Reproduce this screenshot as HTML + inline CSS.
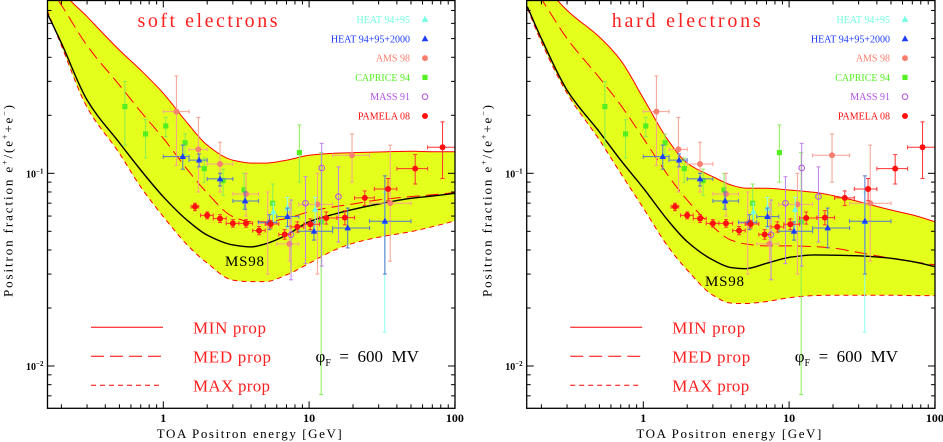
<!DOCTYPE html>
<html><head><meta charset="utf-8">
<style>
html,body{margin:0;padding:0;background:#fff;}
svg{display:block;}
text{font-family:"Liberation Serif",serif;}
</style></head>
<body>
<svg id="chart" width="943" height="442" viewBox="0 0 943 442" xmlns="http://www.w3.org/2000/svg"></svg>
<script>
// ---- shared data ----
const gridE = [0.16,0.2,0.3,0.5,0.7,1,1.5,2,3,4,5,7,10,15,20,30,50,70,100];
// soft electrons
const softMin = [1.3,0.9,0.65,0.436,0.343,0.26,0.178,0.14,0.117,0.113,0.113,0.117,0.124,0.127,0.128,0.129,0.13,0.1295,0.1295];
const softMed = [0.95,0.746,0.46,0.287,0.209,0.152,0.102,0.079,0.0596,0.0561,0.0561,0.0583,0.0632,0.0671,0.0693,0.0728,0.0757,0.0773,0.0794];
const softMax = [0.70,0.46,0.22,0.127,0.085,0.0596,0.0416,0.0342,0.0279,0.0274,0.0274,0.0297,0.0341,0.04,0.0433,0.0466,0.0498,0.0528,0.0566];
const softMS98 = [0.676,0.474,0.24,0.144,0.104,0.0755,0.056,0.0478,0.0425,0.0415,0.043,0.0478,0.0561,0.0615,0.065,0.0693,0.0742,0.0762,0.0787];
// hard electrons
const hardMin = [1.3,1.0,0.7,0.51,0.386,0.245,0.146,0.113,0.096,0.087,0.0838,0.0836,0.0819,0.0796,0.0766,0.0713,0.0645,0.0608,0.0561];
const hardMed = [1.0,0.8,0.50,0.313,0.226,0.152,0.096,0.0726,0.0528,0.045,0.043,0.042,0.042,0.0416,0.0409,0.0388,0.0362,0.0348,0.0335];
const hardMax = [0.72,0.48,0.26,0.149,0.1,0.066,0.041,0.0315,0.0233,0.0212,0.0211,0.0216,0.0226,0.0232,0.0233,0.0233,0.0233,0.0232,0.0232];
const hardMS98 = [0.733,0.50,0.27,0.164,0.117,0.0838,0.0561,0.0442,0.0355,0.0324,0.032,0.0341,0.0366,0.0377,0.0376,0.0373,0.0362,0.0348,0.0328];

// PAMELA 08
const pamE = [1.65,2.0,2.45,3.0,3.69,4.54,5.46,6.8,8.3,10.2,13.1,17.6,24.1,34.8,53.4,82.3];
const pamV = [.0671,.0605,.0582,.055,.055,.0504,.0546,.0481,.0527,.0544,.0586,.0589,.0745,.0829,.1057,.1365];
const pamLo = [.064,.058,.0555,.0525,.0525,.048,.052,.0455,.0495,.051,.0545,.054,.068,.072,.088,.094];
const pamHi = [.070,.063,.061,.0575,.0575,.053,.057,.051,.056,.058,.063,.064,.081,.094,.125,.185];
const pamElo = [1.55,1.8,2.2,2.7,3.3,4.1,5.0,6.2,7.5,9.2,11.8,15.5,20.5,28,40,65];
const pamEhi = [1.75,2.2,2.7,3.3,4.1,5.0,6.2,7.5,9.2,11.8,15.5,20.5,28,40,65,100];
// HEAT 94+95+2000
const h2E = [1.36,1.76,2.45,3.64,5.34,7.1,10.8,18.4,33.1];
const h2V = [.122,.117,.0935,.0718,.0557,.0596,.05,.052,.0564];
const h2Lo = [.105,.108,.086,.065,.051,.053,.045,.041,.030];
const h2Hi = [.14,.126,.1,.08,.061,.066,.056,.066,.097];
const h2Elo = [1.0,1.5,2.0,3.0,4.5,6.0,8.5,14.5,26];
const h2Ehi = [1.5,2.0,3.0,4.5,6.0,8.5,14.5,26,50];
// HEAT 94+95
const h1E = [5.7,7.1,11,33];
const h1V = [.063,.066,.065,.056];
const h1Lo = [.055,.052,.05,.015];
const h1Hi = [.07,.075,.075,.08];
// AMS 98
const amsE = [1.23,1.74,2.45,3.69,5.2,7.33,11.4,19.7,36];
const amsV = [.209,.133,.1117,.0781,.055,.043,.069,.124,.0699];
const amsLo = [.11,.08,.08,.06,.03,.035,.03,.09,.035];
const amsHi = [.32,.195,.145,.1,.08,.07,.10,.16,.14];
const amsElo = [1.0,1.5,2.0,3.0,4.5,6,8.5,14.5,26];
const amsEhi = [1.5,2,3,4.5,6,8.5,14.5,26,50];
// CAPRICE 94
const capE = [.545,.756,1.04,1.41,1.91,2.57,3.58,5.63,8.58,12.1];
const capV = [.222,.16,.176,.144,.1057,.0916,.082,.0699,.128,.0559];
const capLo = [.14,.12,.155,.125,.09,.077,.066,.055,.09,.0071];
const capHi = [.30,.19,.195,.16,.12,.105,.1,.088,.178,.128];
// MASS 91
const massE = [7.52,9.44,12.2,15.9];
const massV = [.048,.0699,.1066,.0757];
const massLo = [.028,.034,.033,.044];
const massHi = [.0727,.096,.143,.108];

const legendLabels = ["HEAT 94+95","HEAT 94+95+2000","AMS 98","CAPRICE 94","MASS 91","PAMELA 08"];
const xTickLabels = ["1","10","100"];

const NS = "http://www.w3.org/2000/svg";
const svg = document.getElementById('chart');
function mk(tag, attrs, parent){
  const e = document.createElementNS(NS, tag);
  for (const k in attrs) e.setAttribute(k, attrs[k]);
  (parent||svg).appendChild(e);
  return e;
}
const Y_TOP = 0.5, Y_BOT = 408.3;
function yS(v){ return 173.3 - (Math.log10(v)+1)*192.7; }

function smoothPath(pts, reverse){
  const n = pts.length, d = [], m = new Array(n);
  for (let i=0;i<n-1;i++) d.push((pts[i+1][1]-pts[i][1])/(pts[i+1][0]-pts[i][0]));
  m[0]=d[0]; m[n-1]=d[n-2];
  for (let i=1;i<n-1;i++){
    if (d[i-1]*d[i]<=0) m[i]=0;
    else { const h0=pts[i][0]-pts[i-1][0], h1=pts[i+1][0]-pts[i][0];
      const w1=2*h1+h0, w2=h1+2*h0; m[i]=(w1+w2)/(w1/d[i-1]+w2/d[i]); }
  }
  const segs=[];
  for (let i=0;i<n-1;i++){
    const h=pts[i+1][0]-pts[i][0];
    segs.push([pts[i],[pts[i][0]+h/3,pts[i][1]+m[i]*h/3],[pts[i+1][0]-h/3,pts[i+1][1]-m[i+1]*h/3],pts[i+1]]);
  }
  const f=p=>p[0].toFixed(1)+","+p[1].toFixed(1);
  if (!reverse){
    let s="M"+f(pts[0]);
    segs.forEach(g=>{s+=" C"+f(g[1])+" "+f(g[2])+" "+f(g[3]);});
    return s;
  } else {
    let s="L"+f(pts[n-1]);
    for (let i=segs.length-1;i>=0;i--){const g=segs[i]; s+=" C"+f(g[2])+" "+f(g[1])+" "+f(g[0]);}
    return s;
  }
}

function panel(id, x0, x1, xOne, title, titleLen, cMin, cMed, cMax, cMS, msPos){
  const xS = E => xOne + Math.log10(E)*145.8;
  const g = mk('g', {});
  
  
  const clip = mk('clipPath', {id:'clip-'+id}, g);
  mk('rect', {x:x0, y:Y_TOP, width:x1-x0, height:Y_BOT-Y_TOP}, clip);
  const plot = mk('g', {'clip-path':'url(#clip-'+id+')'}, g);

  const ptsMin = gridE.map((E,i)=>[xS(E), yS(cMin[i])]);
  const ptsMax = gridE.map((E,i)=>[xS(E), yS(cMax[i])]);
  const ptsMed = gridE.map((E,i)=>[xS(E), yS(cMed[i])]);
  const ptsMS = gridE.map((E,i)=>[xS(E), yS(cMS[i])]);
  const band = mk('path', {d: smoothPath(ptsMin)+" "+smoothPath(ptsMax,true)+" Z", fill:'#e5ff1c', stroke:'none'}, plot);
  
  
  const lMin = mk('path', {d:smoothPath(ptsMin), fill:'none', stroke:'#ff0000', 'stroke-width':1}, plot);
  
  
  const lMed = mk('path', {d:smoothPath(ptsMed), fill:'none', stroke:'#ff0000', 'stroke-width':1, 'stroke-dasharray':'13,6'}, plot);
  
  
  const lMax = mk('path', {d:smoothPath(ptsMax), fill:'none', stroke:'#ff0000', 'stroke-width':1, 'stroke-dasharray':'5,4'}, plot);
  
  
  const lMS = mk('path', {d:smoothPath(ptsMS), fill:'none', stroke:'#000', 'stroke-width':1.4}, plot);
  
  

  function series(name, Es, Vs, Lo, Hi, Elo, Ehi, col, ecol, shape){
    const sg = mk('g', {}, plot);
    
    
    Es.forEach((E,i)=>{
      const x = xS(E), y = yS(Vs[i]);
      mk('line', {x1:x, x2:x, y1:yS(Lo[i]), y2:yS(Hi[i]), stroke:ecol, 'stroke-width':1}, sg);
      mk('line', {x1:x-2, x2:x+2, y1:yS(Lo[i]), y2:yS(Lo[i]), stroke:ecol}, sg);
      mk('line', {x1:x-2, x2:x+2, y1:yS(Hi[i]), y2:yS(Hi[i]), stroke:ecol}, sg);
      if (Elo){
        mk('line', {x1:xS(Elo[i]), x2:xS(Ehi[i]), y1:y, y2:y, stroke:ecol}, sg);
        mk('line', {x1:xS(Elo[i]), x2:xS(Elo[i]), y1:y-2, y2:y+2, stroke:ecol}, sg);
        mk('line', {x1:xS(Ehi[i]), x2:xS(Ehi[i]), y1:y-2, y2:y+2, stroke:ecol}, sg);
      }
      let m;
      if (shape==='circle') m = mk('circle', {cx:x, cy:y, r:3, fill:col}, sg);
      else if (shape==='open') m = mk('circle', {cx:x, cy:y, r:2.8, fill:'none', stroke:col, 'stroke-width':1}, sg);
      else if (shape==='square') m = mk('rect', {x:x-2.6, y:y-2.6, width:5.2, height:5.2, fill:col}, sg);
      else m = mk('path', {d:`M${x},${y-3.6} L${x+3.3},${y+2.4} L${x-3.3},${y+2.4} Z`, fill:col}, sg);
      
      
    });
  }
  series('caprice-94', capE, capV, capLo, capHi, null, null, '#55ee22', '#88ee55', 'square');
  series('ams-98', amsE, amsV, amsLo, amsHi, amsElo, amsEhi, '#f88070', '#f8a090', 'circle');
  series('mass-91', massE, massV, massLo, massHi, null, null, '#b050e0', '#c080e8', 'open');
  series('heat-94-95', h1E, h1V, h1Lo, h1Hi, null, null, '#70ffe0', '#90fff0', 'tri');
  series('heat-94-95-2000', h2E, h2V, h2Lo, h2Hi, h2Elo, h2Ehi, '#1a3cff', '#5577cc', 'tri');
  series('pamela-08', pamE, pamV, pamLo, pamHi, pamElo, pamEhi, '#ff1010', '#ff3030', 'circle');

  const fr = mk('rect', {x:x0, y:Y_TOP, width:x1-x0, height:Y_BOT-Y_TOP, fill:'none', stroke:'#000', 'stroke-width':1.3}, g);
  
  
  for (let dec=-1; dec<=2; dec++){
    for (let k=1;k<10;k++){
      const E = k*Math.pow(10,dec); const x = xS(E);
      if (x<x0-0.5 || x>x1+0.5) continue;
      const L = k===1?7:4;
      mk('line', {x1:x,x2:x,y1:Y_BOT,y2:Y_BOT-L,stroke:'#000'}, g);
      mk('line', {x1:x,x2:x,y1:Y_TOP,y2:Y_TOP+L,stroke:'#000'}, g);
    }
  }
  for (let dec=-3; dec<=0; dec++){
    for (let k=1;k<10;k++){
      const v = k*Math.pow(10,dec); const y = yS(v);
      if (y<Y_TOP || y>Y_BOT) continue;
      const L = k===1?7:4;
      mk('line', {x1:x0,x2:x0+L,y1:y,y2:y,stroke:'#000'}, g);
      mk('line', {x1:x1,x2:x1-L,y1:y,y2:y,stroke:'#000'}, g);
    }
  }
  xTickLabels.forEach((lab,i)=>{
    const t = mk('text', {x:xS(Math.pow(10,i)), y:422, 'text-anchor':'middle', 'font-size':12, 'font-weight':'bold'}, g);
    t.textContent = lab;
    
    
  });
  [[-1,'−1'],[-2,'−2']].forEach(([p,s])=>{
    const t = mk('text', {x:x0-4, y:yS(Math.pow(10,p))+4, 'text-anchor':'end', 'font-size':10, 'font-weight':'bold'}, g);
    t.innerHTML = '10<tspan font-size="7" dy="-4">'+s+'</tspan>';
    
    
  });
  const xt = mk('text', {x:x0+(x1-x0)*0.5-2, y:438, 'text-anchor':'middle', 'font-size':13, textLength:185}, g);
  xt.textContent = 'TOA Positron energy  [GeV]';
  
  
  const yt = mk('text', {x:0, y:0, 'text-anchor':'middle', 'font-size':13, textLength:192, transform:`translate(${x0-35},201) rotate(-90)`}, g);
  yt.innerHTML = 'Positron fraction e<tspan font-size="8" dy="-5">+</tspan><tspan dy="5">/(e</tspan><tspan font-size="8" dy="-5">+</tspan><tspan dy="5">+e</tspan><tspan font-size="8" dy="-5">−</tspan><tspan dy="5">)</tspan>';
  
  

  const tt = mk('text', {x:x0+(title==='soft electrons'?90:85), y:27, 'font-size':20, fill:'#ff2020', textLength:titleLen}, g);
  tt.textContent = title;
  
  

  const lx = x1-45, mx = x1-30;
  const cols = ['#70ffe0','#1a3cff','#f88070','#55ee22','#b050e0','#ff1010'];
  const shapes = ['tri','tri','circle','square','open','circle'];
  legendLabels.forEach((lab,i)=>{
    const y = 19.5 + i*19.3;
    const t = mk('text', {x:lx, y:y+3.5, 'text-anchor':'end', 'font-size':10, fill:cols[i], 'font-family':'Liberation Sans'}, g);
    t.textContent = lab;
    
    
    let m;
    if (shapes[i]==='circle') m = mk('circle',{cx:mx,cy:y,r:3,fill:cols[i]},g);
    else if (shapes[i]==='open') m = mk('circle',{cx:mx,cy:y,r:2.8,fill:'none',stroke:cols[i]},g);
    else if (shapes[i]==='square') m = mk('rect',{x:mx-2.6,y:y-2.6,width:5.2,height:5.2,fill:cols[i]},g);
    else m = mk('path',{d:`M${mx},${y-3.6} L${mx+3.3},${y+2.4} L${mx-3.3},${y+2.4} Z`,fill:cols[i]},g);
    
    
  });

  const pl = [['MIN prop',null,73],['MED prop','13,6',78],['MAX prop','5,4',77]];
  pl.forEach((p,i)=>{
    const y = 327.3 + i*29;
    const ln = mk('line', {x1:x0+43.5, x2:x0+115.5, y1:y, y2:y, stroke:'#ff0000', 'stroke-width':1}, g);
    if (p[1]) ln.setAttribute('stroke-dasharray', p[1]);
    
    
    const t = mk('text', {x:x0+145.5, y:y+6, 'font-size':17, fill:'#ff2020', textLength:p[2]}, g);
    t.textContent = p[0];
    
    
  });
  const ph = mk('text', {x:x0+268, y:362, 'font-size':17, fill:'#000'}, g);
  ph.innerHTML = 'φ<tspan font-size="10" dy="4">F</tspan><tspan dy="-4" xml:space="preserve">  =  600  MV</tspan>';
  
  
  const ms = mk('text', {x:msPos[0], y:msPos[1], 'font-size':15, fill:'#000', textLength:39}, g);
  ms.textContent = 'MS98';
  
  
}

panel('soft', 47.5, 455, 163.3, 'soft electrons', 140, softMin, softMed, softMax, softMS98, [225,266]);
panel('hard', 526.7, 935, 643.3, 'hard electrons', 149, hardMin, hardMed, hardMax, hardMS98, [705,286]);
</script>
</body></html>
